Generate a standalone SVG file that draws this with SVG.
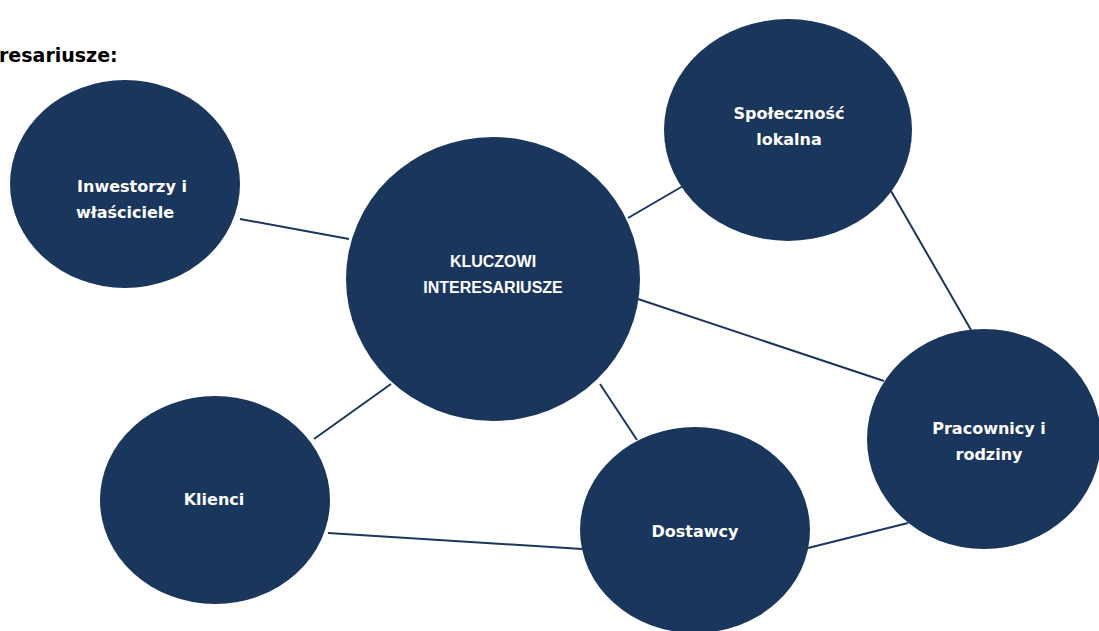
<svg xmlns="http://www.w3.org/2000/svg" width="1099" height="631" viewBox="0 0 1099 631">
<style>
.n{fill:#1b365d}
.t{fill:#fff;font-family:"DejaVu Sans",Verdana,sans-serif;font-weight:bold;font-size:16px;text-anchor:middle}
.k{fill:#fff;font-family:"Liberation Sans",Arial,sans-serif;font-weight:bold;font-size:16px;text-anchor:middle}
.c line{stroke:#1b365d;stroke-width:2}
.h{fill:#000;font-family:"DejaVu Sans",Verdana,sans-serif;font-weight:bold;font-size:19px}
</style>
<rect width="1099" height="631" fill="#fff"/>
<text class="h" x="-1" y="62">resariusze:</text>
<g class="c" id="connectors">
<line x1="240" y1="219" x2="349" y2="239"/>
<line x1="628" y1="218" x2="683" y2="186"/>
<line x1="891" y1="191" x2="971" y2="330"/>
<line x1="638" y1="299" x2="884" y2="381"/>
<line x1="391" y1="384" x2="314" y2="439"/>
<line x1="600" y1="384" x2="637" y2="440"/>
<line x1="328" y1="533" x2="582" y2="549"/>
<line x1="808" y1="548" x2="908" y2="523"/>
</g>
<g id="inwestorzy"><ellipse class="n" cx="125" cy="184" rx="115" ry="104"/><text class="t" x="132" y="192">Inwestorzy i</text><text class="t" x="125" y="218">właściciele</text></g>
<g id="kluczowi"><ellipse class="n" cx="493" cy="279" rx="147" ry="142"/><text class="k" x="493" y="267">KLUCZOWI</text><text class="k" x="493" y="293">INTERESARIUSZE</text></g>
<g id="spolecznosc"><ellipse class="n" cx="788" cy="130" rx="124" ry="111"/><text class="t" x="789" y="119">Społeczność</text><text class="t" x="789" y="145">lokalna</text></g>
<g id="pracownicy"><ellipse class="n" cx="984" cy="439" rx="117" ry="110"/><text class="t" x="989" y="434">Pracownicy i</text><text class="t" x="989" y="460">rodziny</text></g>
<g id="klienci"><ellipse class="n" cx="215" cy="500" rx="115" ry="104"/><text class="t" x="214" y="505">Klienci</text></g>
<g id="dostawcy"><ellipse class="n" cx="695" cy="530" rx="115" ry="103"/><text class="t" x="695" y="537">Dostawcy</text></g>
</svg>
